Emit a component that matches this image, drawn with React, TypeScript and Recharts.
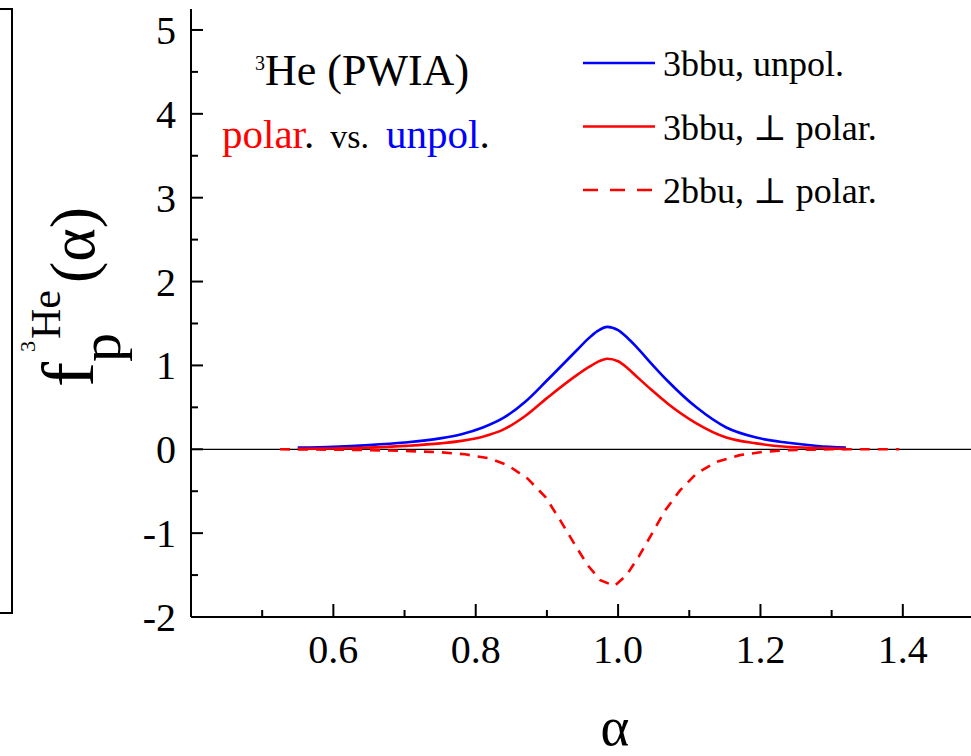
import { LineChart, Line, XAxis, YAxis, ReferenceLine } from "recharts";

const SERIF = "'Liberation Serif', 'Times New Roman', Times, 'DejaVu Serif', serif";

// 3bbu curves (solid) share one alpha grid
const ALPHA_3BBU = [0.55, 0.6, 0.65, 0.7, 0.75, 0.78, 0.81, 0.84, 0.87, 0.9, 0.943, 0.957, 0.971, 0.985, 1.0, 1.013, 1.027, 1.048, 1.069, 1.11, 1.152, 1.194, 1.236, 1.28, 1.32];
const UNPOL_3BBU = [0.02, 0.03, 0.05, 0.08, 0.13, 0.18, 0.26, 0.38, 0.57, 0.82, 1.19, 1.31, 1.41, 1.46, 1.42, 1.33, 1.21, 1.01, 0.82, 0.5, 0.26, 0.14, 0.08, 0.04, 0.02];
const PERP_3BBU = [0.005, 0.01, 0.02, 0.04, 0.07, 0.1, 0.15, 0.24, 0.4, 0.61, 0.89, 0.97, 1.04, 1.08, 1.05, 0.97, 0.86, 0.7, 0.55, 0.31, 0.14, 0.07, 0.03, 0.015, 0.005];

// 2bbu perpendicular polarization (dashed)
const ALPHA_2BBU = [0.525, 0.6, 0.65, 0.7, 0.75, 0.785, 0.82, 0.845, 0.873, 0.898, 0.919, 0.938, 0.957, 0.975, 0.995, 1.012, 1.029, 1.048, 1.066, 1.087, 1.11, 1.138, 1.171, 1.204, 1.24, 1.3, 1.395];
const PERP_2BBU = [0, -0.005, -0.01, -0.02, -0.035, -0.06, -0.11, -0.19, -0.35, -0.57, -0.85, -1.12, -1.38, -1.56, -1.63, -1.5, -1.28, -1.0, -0.73, -0.49, -0.29, -0.15, -0.07, -0.03, -0.01, 0, 0];

const X_TICKS = [0.5, 0.6, 0.7, 0.8, 0.9, 1.0, 1.1, 1.2, 1.3, 1.4];
const Y_TICKS = [-2, -1.5, -1, -0.5, 0, 0.5, 1, 1.5, 2, 2.5, 3, 3.5, 4, 4.5, 5];

const LEGEND = [
  { label: "3bbu, unpol.", color: "#0000ff", dash: undefined },
  { label: "3bbu, \u22A5 polar.", color: "#ff0000", dash: undefined },
  { label: "2bbu, \u22A5 polar.", color: "#ff0000", dash: "15 12" },
];

const unpolRows = ALPHA_3BBU.map((a, i) => ({ a, v: UNPOL_3BBU[i] }));
const perpRows = ALPHA_3BBU.map((a, i) => ({ a, v: PERP_3BBU[i] }));
const perp2Rows = ALPHA_2BBU.map((a, i) => ({ a, v: PERP_2BBU[i] }));

const serif = { fontFamily: SERIF };

function BottomTick({ x, y, payload }: any) {
  const major = Math.round(payload.value * 10) % 2 === 0;
  return (
    <g>
      <line x1={x} x2={x} y1={y} y2={y - (major ? 13 : 7)} stroke="#000" strokeWidth={2} />
      {major && (
        <text x={x} y={y + 46} textAnchor="middle" fontSize={40} style={serif} fill="#000">
          {payload.value.toFixed(1)}
        </text>
      )}
    </g>
  );
}

function TopTick({ x, y, payload }: any) {
  const major = Math.round(payload.value * 10) % 2 === 0;
  return <line x1={x} x2={x} y1={y} y2={y + (major ? 12 : 6)} stroke="#000" strokeWidth={2} />;
}

function LeftTick({ x, y, payload }: any) {
  const major = Number.isInteger(payload.value);
  return (
    <g>
      <line x1={x} x2={x + (major ? 12 : 7)} y1={y} y2={y} stroke="#000" strokeWidth={2} />
      {major && (
        <text x={x - 15} y={y + 14} textAnchor="end" fontSize={40} style={serif} fill="#000">
          {payload.value}
        </text>
      )}
    </g>
  );
}

export default function App() {
  return (
    <div style={{ position: "absolute", left: 0, top: 0, width: 971, height: 756, overflow: "hidden", background: "#fff", fontFamily: SERIF }}>
      <LineChart width={976} height={756} margin={{ top: 9, right: 2, left: 0, bottom: 0 }}>
        <XAxis
          dataKey="a"
          type="number"
          domain={[0.4, 1.5]}
          allowDataOverflow
          ticks={X_TICKS}
          interval={0}
          height={139}
          tickSize={0}
          tickMargin={0}
          tickLine={false}
          tick={<BottomTick />}
          axisLine={{ stroke: "#000", strokeWidth: 2 }}
        />
        <XAxis
          xAxisId="top"
          orientation="top"
          dataKey="a"
          type="number"
          domain={[0.4, 1.5]}
          allowDataOverflow
          ticks={X_TICKS}
          interval={0}
          height={0}
          tickSize={0}
          tickMargin={0}
          tickLine={false}
          tick={<TopTick />}
          axisLine={{ stroke: "#000", strokeWidth: 2 }}
        />
        <YAxis
          type="number"
          domain={[-2, 5.25]}
          allowDataOverflow
          ticks={Y_TICKS}
          interval={0}
          width={191}
          tickSize={0}
          tickMargin={0}
          tickLine={false}
          tick={<LeftTick />}
          axisLine={{ stroke: "#000", strokeWidth: 2 }}
        />
        <ReferenceLine y={0} stroke="#000" strokeWidth={1.3} />
        <Line data={unpolRows} dataKey="v" type="monotone" stroke="#0000ff" strokeWidth={2.6} dot={false} isAnimationActive={false} />
        <Line data={perpRows} dataKey="v" type="monotone" stroke="#ff0000" strokeWidth={2.6} dot={false} isAnimationActive={false} />
        <Line data={perp2Rows} dataKey="v" type="linear" stroke="#ff0000" strokeWidth={2.6} strokeDasharray="10 8" dot={false} isAnimationActive={false} />
      </LineChart>

      <svg width={971} height={756} style={{ position: "absolute", left: 0, top: 0, pointerEvents: "none", fontFamily: SERIF }}>
        {/* edge of the neighbouring panel */}
        <polyline points="0,9 12,9 12,613 0,613" fill="none" stroke="#000" strokeWidth={2} />

        {/* y axis title */}
        <g transform="translate(93,387) rotate(-90)" style={serif}>
          <text x={0} y={0} fontSize={75}>f</text>
          <text x={25} y={27} fontSize={58}>p</text>
          <text x={35} y={-58} fontSize={22}>3</text>
          <text x={48} y={-33} fontSize={42}>He</text>
          <text x={104} y={1} fontSize={64}>(α)</text>
        </g>

        {/* x axis title */}
        <text x={615} y={745} fontSize={55} textAnchor="middle" style={serif}>α</text>

        {/* annotation */}
        <text x={255} y={70} fontSize={20} style={serif}>3</text>
        <text x={265} y={85} fontSize={44} style={serif}>He (PWIA)</text>
        <text x={222} y={148} fontSize={41} style={serif}>
          <tspan fill="#ff0000">polar</tspan>
          <tspan>.</tspan>
          <tspan dx={16} fontSize={34}>vs.</tspan>
          <tspan dx={17} fill="#0000ff">unpol</tspan>
          <tspan>.</tspan>
        </text>

        {/* legend */}
        {LEGEND.map((s, i) => {
          const cy = 63 + i * 63.5;
          return (
            <g key={s.label}>
              <line x1={583} x2={655} y1={cy} y2={cy} stroke={s.color} strokeWidth={2.6} strokeDasharray={s.dash} />
              <text x={663} y={cy + 13} fontSize={36} style={serif}>{s.label}</text>
            </g>
          );
        })}
      </svg>
    </div>
  );
}
